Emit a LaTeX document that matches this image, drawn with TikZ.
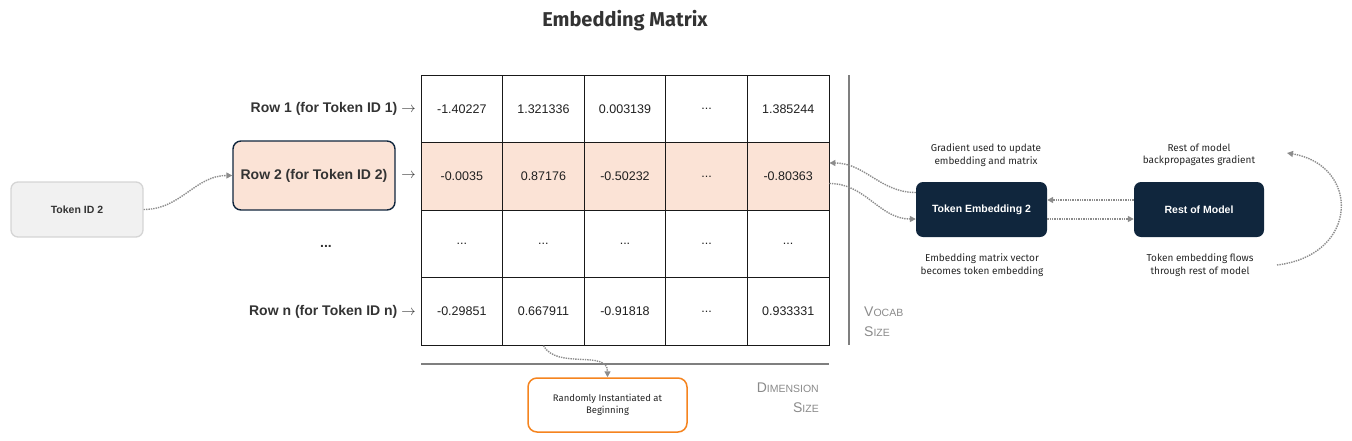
\documentclass[tikz,border=0pt]{standalone}
\usepackage{fontspec}
\setmainfont{Liberation Sans}
\newfontfamily\handfont{Fira Sans}
\usetikzlibrary{arrows.meta}

\definecolor{ink}{HTML}{333333}
\definecolor{peach}{HTML}{FBE3D6}
\definecolor{navy}{HTML}{10263D}
\definecolor{boxgray}{HTML}{F1F1F1}
\definecolor{boxedge}{HTML}{D5D5D5}
\definecolor{orangeedge}{HTML}{F5841F}
\definecolor{labgray}{HTML}{8A8A8A}
\definecolor{linegray}{HTML}{7F7F7F}
\newcommand{\fsc}[1]{{\fontsize{10.5}{20}\selectfont #1}}

\begin{document}
\begin{tikzpicture}[x=1pt, y=-1pt, every node/.style={font=\fontsize{12.5}{15}\selectfont, text=black!88},
	cell/.style={draw=black!90, line width=0.9pt, minimum width=81.6pt, minimum height=67.5pt, inner sep=0pt},
	hl/.style={cell, fill=peach},
	rowlab/.style={anchor=east, inner sep=0pt, text=ink, font=\fontsize{14}{16}\selectfont\bfseries},
	darkbox/.style={rounded corners=7pt, fill=navy, minimum height=55pt, text=white, font=\fontsize{10.5}{13}\selectfont\bfseries},
	note/.style={align=center, text=black!85, font=\handfont\fontsize{10}{12.5}\selectfont},
	flow/.style={draw=black!45, line width=1.4pt, densely dotted, -{Triangle[length=6pt,width=6pt]}},
	gridline/.style={draw=linegray, line width=1.5pt}]
	\useasboundingbox (0,0) rectangle (1352,440);
	\node[text=ink, font=\handfont\fontsize{20}{24}\selectfont\bfseries] (title) at (625,21) {Embedding Matrix};
	% the matrix cells
	\node[cell] (c11) at (461.8,109) {-1.40227};
	\node[cell] (c12) at (543.4,109) {1.321336};
	\node[cell] (c13) at (625,109) {0.003139};
	\node[cell] (c14) at (706.6,109) {...};
	\node[cell] (c15) at (788.2,109) {1.385244};
	\node[hl] (c21) at (461.8,176.5) {-0.0035};
	\node[hl] (c22) at (543.4,176.5) {0.87176};
	\node[hl] (c23) at (625,176.5) {-0.50232};
	\node[hl] (c24) at (706.6,176.5) {...};
	\node[hl] (c25) at (788.2,176.5) {-0.80363};
	\node[cell] (c31) at (461.8,244) {...};
	\node[cell] (c32) at (543.4,244) {...};
	\node[cell] (c33) at (625,244) {...};
	\node[cell] (c34) at (706.6,244) {...};
	\node[cell] (c35) at (788.2,244) {...};
	\node[cell] (c41) at (461.8,311.5) {-0.29851};
	\node[cell] (c42) at (543.4,311.5) {0.667911};
	\node[cell] (c43) at (625,311.5) {-0.91818};
	\node[cell] (c44) at (706.6,311.5) {...};
	\node[cell] (c45) at (788.2,311.5) {0.933331};
	% row labels
	\node[rowlab] (r1) at (416,109) {Row 1 (for Token ID 1)\hspace{4pt}$\rightarrow$};
	\node[draw=navy, fill=peach, rounded corners=8pt, line width=1.4pt, minimum width=162pt, minimum height=69pt, inner sep=2pt, text=ink, font=\fontsize{14}{16}\selectfont\bfseries] (row2) at (314,175.5) {Row 2 (for Token ID 2)};
	\node[rowlab] (r2) at (416,176) {$\rightarrow$};
	\node[rowlab, anchor=center] (rdots) at (326,246) {...};
	\node[rowlab] (rn) at (416,312) {Row n (for Token ID n)\hspace{4pt}$\rightarrow$};
	% size rulers
	\draw[gridline] (849,75) -- (849,345);
	\draw[gridline] (421,364) -- (829,364);
	\node[anchor=north west, align=left, inner sep=0pt, text=labgray, font=\fontsize{14}{20}\selectfont] (vocab) at (864,307) {V\fsc{OCAB}\\S\fsc{IZE}};
	\node[anchor=north east, align=right, inner sep=0pt, text=labgray, font=\fontsize{14}{20}\selectfont] (dim) at (819,383) {D\fsc{IMENSION}\\S\fsc{IZE}};
	% boxes
	\node[draw=boxedge, fill=boxgray, rounded corners=7pt, line width=1.3pt, minimum width=132pt, minimum height=55pt, text=ink, font=\fontsize{10.5}{13}\selectfont\bfseries] (tok) at (77,209.5) {Token ID 2};
	\node[darkbox, minimum width=131pt] (te) at (981.5,209.5) {Token Embedding 2};
	\node[darkbox, minimum width=130pt] (rm) at (1199,209.5) {Rest of Model};
	\node[draw=orangeedge, fill=white, line width=1.5pt, rounded corners=9pt, minimum width=159pt, minimum height=54pt, note, font=\handfont\fontsize{9.5}{12.5}\selectfont] (rand) at (607.5,405) {Randomly Instantiated at\\Beginning};
	\node[note] (grad) at (986,155) {Gradient used to update\\embedding and matrix};
	\node[note] (back) at (1199,155) {Rest of model\\backpropagates gradient};
	\node[note] (vec) at (982,265) {Embedding matrix vector\\becomes token embedding};
	\node[note] (flows) at (1200,265) {Token embedding flows\\through rest of model};
	\coordinate (loopa) at (1277,265);
	\coordinate (loopb) at (1287,153);
	% connectors
	\draw[flow] (tok.east) to[out=0, in=180] (row2.west);
	\draw[flow] ([yshift=-7pt]c25.east) to[out=0, in=180] ([yshift=-9.5pt]te.west);
	\draw[flow] ([yshift=17pt]te.west) to[out=180, in=0] ([yshift=13.5pt]c25.east);
	\draw[flow] ([yshift=-9.5pt]te.east) -- ([yshift=-9.5pt]rm.west);
	\draw[flow] ([yshift=9.5pt]rm.west) -- ([yshift=9.5pt]te.east);
	\draw[flow] (loopa) .. controls (1360,255) and (1360,165) .. (loopb);
	\draw[flow] (c42.south) to[out=-60, in=90] (rand.north);
\end{tikzpicture}
\end{document}
